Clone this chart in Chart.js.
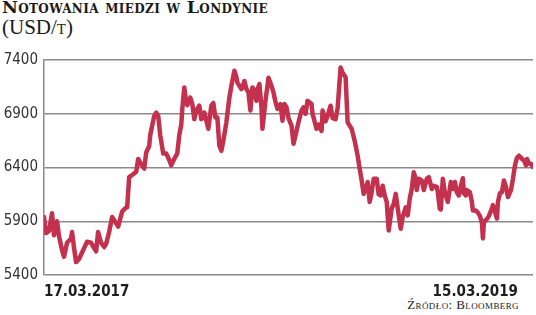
<!DOCTYPE html>
<html>
<head>
<meta charset="utf-8">
<script src="https://cdn.jsdelivr.net/npm/chart.js@4/dist/chart.umd.min.js"></script>
<style>
  html, body { margin: 0; padding: 0; background: #fff; }
  body { width: 536px; height: 315px; position: relative; overflow: hidden; }
  #title { position: absolute; left: 2px; top: -3px; font: bold 17.4px "DejaVu Serif"; font-variant: small-caps; letter-spacing: 0.35px; color: #1a1a1a; white-space: nowrap; }
  #unit { position: absolute; left: 2px; top: 15px; font: 21px "Liberation Serif"; font-variant: small-caps; color: #1a1a1a; }
  #source { position: absolute; right: 17px; top: 297px; font: 13px "Liberation Serif"; font-variant: small-caps; color: #222; letter-spacing: 0.4px; }
  #wrap { position: absolute; left: 0; top: 45px; width: 536px; height: 252px; }
</style>
</head>
<body>
<div id="title">Notowania miedzi w Londynie</div>
<div id="unit">(USD/t)</div>
<div id="wrap"><canvas id="chart" width="536" height="252"></canvas></div>
<div id="source">Źródło: Bloomberg</div>
<script>
// sesja (od 17.03.2017) i cena miedzi w USD/t
const sessions = [
  0, 2, 5, 8, 10, 13, 15, 18, 20, 23, 27, 28, 30, 32, 35, 38, 41, 43, 47, 50,
  52, 54, 57, 60, 62, 65, 68, 72, 74, 78, 81, 83, 85, 88, 92, 94, 97, 100, 102, 105,
  106, 108, 110, 112, 114, 116, 119, 122, 125, 127, 130, 133, 135, 137, 138, 140, 142, 143, 146, 148,
  150, 152, 155, 157, 158, 160, 162, 164, 167, 169, 171, 173, 175, 177, 179, 182, 185, 187, 190, 192,
  193, 197, 198, 200, 202, 204, 206, 208, 210, 212, 213, 215, 217, 218, 221, 223, 224, 227, 229, 231,
  233, 236, 238, 240, 242, 244, 247, 249, 252, 254, 257, 259, 261, 263, 267, 268, 272, 274, 277, 278,
  281, 283, 286, 288, 291, 293, 296, 298, 301, 303, 307, 310, 313, 315, 317, 319, 321, 323, 325, 327,
  329, 332, 334, 336, 338, 340, 342, 344, 347, 349, 351, 353, 356, 358, 361, 363, 365, 367, 369, 371,
  372, 374, 377, 379, 382, 384, 387, 389, 392, 393, 395, 396, 398, 400, 403, 406, 408, 410, 412, 414,
  416, 418, 419, 421, 422, 425, 427, 428, 431, 433, 435, 437, 438, 439, 442, 444, 447, 448, 450, 452,
  453, 455, 457, 459, 461, 463, 466, 468, 470, 472, 474, 477, 479, 481, 482, 484, 486, 488
]
const prices = [
  5940, 5790, 5810, 5975, 5770, 5900, 5760, 5630, 5570, 5700, 5740, 5800, 5650, 5520, 5550, 5610, 5670, 5710, 5700, 5650,
  5620, 5800, 5700, 5660, 5690, 5800, 5940, 5880, 5850, 5990, 6020, 6030, 6310, 6330, 6360, 6480, 6430, 6390, 6540, 6600,
  6700, 6790, 6880, 6910, 6880, 6700, 6530, 6530, 6470, 6420, 6480, 6530, 6700, 6800, 6940, 7145, 7000, 6980, 7050, 6990,
  6850, 6930, 6975, 6850, 6865, 6910, 6835, 6760, 6975, 7000, 6865, 6865, 6605, 6555, 6650, 6820, 7050, 7160, 7300, 7240,
  7190, 7130, 7140, 7205, 7130, 7100, 6930, 7145, 7110, 7020, 7130, 7175, 6960, 6760, 7020, 7160, 7235, 7160, 7100, 7010,
  6945, 6990, 6835, 6990, 6960, 6860, 6790, 6620, 6740, 6820, 6930, 6960, 6900, 7020, 6990, 6900, 6760, 6800, 6740, 6930,
  6830, 6880, 6975, 6860, 6850, 6950, 7330, 7280, 7240, 6820, 6760, 6650, 6510, 6390, 6280, 6155, 6200, 6265, 6080, 6170,
  6295, 6295, 6150, 6140, 6230, 6140, 6080, 5815, 6020, 6060, 6155, 6020, 5830, 5940, 6030, 5955, 6110, 6200, 6355, 6295,
  6190, 6295, 6280, 6190, 6295, 6310, 6200, 6230, 6220, 6170, 6015, 6010, 6295, 6170, 6080, 6265, 6200, 6265, 6170, 6140,
  6230, 6300, 6160, 6140, 6190, 6170, 6080, 6000, 6000, 5980, 5950, 5890, 5740, 5890, 5920, 5950, 6020, 6050, 5990, 5925,
  6080, 6160, 6170, 6280, 6220, 6125, 6190, 6295, 6420, 6490, 6510, 6480, 6465, 6420, 6480, 6435, 6435, 6405
]
const yTicks = [5400, 5900, 6400, 6900, 7400]
const dateTickSessions = [0, 473]
const dateTickLabels = ['17.03.2017', '15.03.2019']

const points = sessions.map((s, i) => ({ x: s, y: prices[i] }))
const narrow = '"DejaVu Sans Condensed", sans-serif'

new Chart(document.getElementById('chart'), {
  type: 'line',
  data: {
    datasets: [{
      data: points,
      borderColor: '#c4314f',
      borderWidth: 4.5,
      borderJoinStyle: 'round',
      borderCapStyle: 'round',
      pointRadius: 0,
      tension: 0,
      fill: false
    }]
  },
  options: {
    responsive: false,
    animation: false,
    layout: { padding: { top: 14, right: 3, left: 0, bottom: 0 } },
    plugins: { legend: { display: false }, tooltip: { enabled: false } },
    scales: {
      x: {
        type: 'linear',
        min: sessions[0],
        max: sessions[sessions.length - 1],
        grid: { display: false },
        border: { display: false },
        afterBuildTicks: (scale) => { scale.ticks = dateTickSessions.map(v => ({ value: v })) },
        afterFit: (scale) => { scale.height = 22 },
        ticks: {
          align: 'inner',
          autoSkip: false,
          maxRotation: 0,
          padding: 0,
          color: '#1e1e1e',
          font: { family: narrow, size: 15, weight: 'bold' },
          callback: (v, i) => dateTickLabels[i]
        }
      },
      y: {
        min: yTicks[0],
        max: yTicks[yTicks.length - 1],
        afterBuildTicks: (scale) => { scale.ticks = yTicks.map(v => ({ value: v })) },
        afterFit: (scale) => { scale.width = 44 },
        grid: { color: '#8a8a8a', lineWidth: 1.5, drawTicks: false },
        border: { display: true, color: '#8a8a8a', width: 1.5 },
        ticks: {
          padding: 6,
          color: '#333',
          font: { family: narrow, size: 15 },
          callback: (v) => String(v)
        }
      }
    }
  }
})
</script>
</body>
</html>
